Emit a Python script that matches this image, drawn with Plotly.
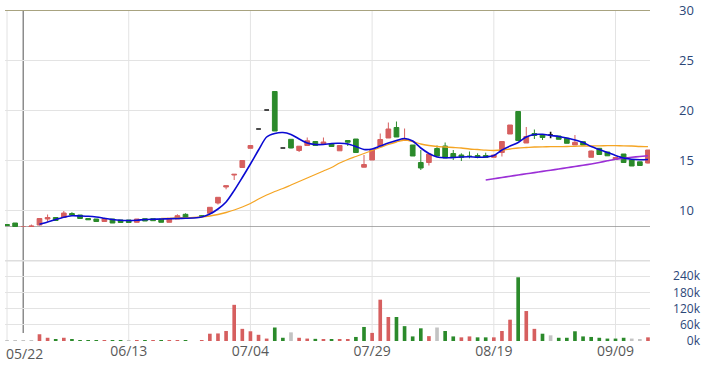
import plotly.graph_objects as go

dates = ["05/22","05/23","05/24","05/27","05/28","05/29","05/30","05/31",
         "06/03","06/04","06/05","06/06","06/07","06/11","06/12","06/13","06/14",
         "06/17","06/18","06/19","06/20","06/21","06/24","06/25","06/26","06/27","06/28",
         "07/01","07/02","07/03","07/04","07/05","07/08","07/09","07/10","07/11","07/12",
         "07/15","07/16","07/17","07/18","07/19","07/22","07/23","07/26","07/29","07/30","07/31",
         "08/01","08/02","08/05","08/06","08/07","08/08","08/09","08/12","08/13","08/14","08/15","08/16",
         "08/19","08/20","08/21","08/22","08/23","08/26","08/27","08/28","08/29","08/30",
         "09/02","09/03","09/04","09/05","09/06","09/09","09/10","09/11","09/12","09/13"]

opens = [8.55, 8.7, 8.2, 8.28, 8.5, 9.1, 9.25, 9.25, 9.65, 9.5,
         9.15, 9.1, 8.85, 9.1, 9.0, 9.0, 8.77, 9.13, 9.13, 9.1,
         8.77, 9.1, 9.57, None, 9.42, 9.67, 10.7, 12.3, 13.5, 14.25,
         16.17, 18.1, 20.0, 21.85, 16.2, 17.07, 15.95, 16.45, 16.85, 16.65,
         16.6, 15.92, 16.95, 17.1, 14.28, 15.0, 16.4, 17.2, 18.25, 16.95,
         16.5, 14.75, 14.75, 16.15, 16.4, 15.65, 15.5, 15.4, 15.45, 15.45,
         15.27, 15.75, 17.6, 19.85, 16.7, 17.65, 17.55, 17.5, 17.4, 17.17,
         16.5, 16.83, 15.27, 16.17, 15.8, 15.08, 15.6, 15.0, 14.82, 14.7]
highs = [8.55, 8.7, 8.3, 8.55, 9.15, 9.55, 9.3, 9.9, 9.78, 9.5,
         9.15, 9.1, 9.15, 9.1, 9.0, 9.0, 9.1, 9.13, 9.13, 9.1,
         9.17, 9.57, 9.67, None, 9.5, 10.3, 11.3, 12.43, 13.57, 14.95,
         16.45, 18.1, 20.0, 21.85, 16.2, 17.07, 16.4, 17.25, 16.85, 17.25,
         16.6, 16.45, 17.0, 17.1, 15.5, 16.0, 17.65, 18.75, 18.85, 18.15,
         16.5, 16.0, 15.6, 16.45, 16.75, 16.0, 15.67, 15.85, 15.67, 15.73,
         15.5, 16.85, 18.5, 19.85, 18.3, 18.05, 17.55, 17.83, 17.4, 17.17,
         17.5, 16.83, 15.95, 16.17, 15.8, 15.27, 15.6, 15.0, 14.82, 16.0]
lows = [8.45, 8.35, 8.2, 8.28, 8.45, 8.85, 8.95, 9.2, 9.5, 9.15,
        9.02, 8.85, 8.85, 8.7, 8.75, 8.75, 8.77, 8.9, 8.93, 8.77,
        8.77, 9.1, 9.17, None, 9.3, 9.67, 10.55, 12.07, 13.0, 14.25,
        16.17, 18.1, 20.0, 17.9, 16.2, 16.17, 15.8, 16.45, 16.45, 16.65,
        16.33, 15.92, 16.4, 15.75, 14.25, 15.0, 16.4, 17.2, 17.3, 16.9,
        15.4, 14.0, 14.45, 15.4, 15.2, 15.0, 14.9, 15.17, 15.17, 15.27,
        15.27, 15.35, 17.6, 16.95, 16.7, 17.1, 17.0, 17.17, 17.07, 16.67,
        16.5, 16.5, 15.27, 15.52, 15.42, 15.08, 14.75, 14.4, 14.42, 14.65]
closes = [8.45, 8.35, 8.3, 8.4, 9.15, 9.25, 8.95, 9.7, 9.5, 9.15,
          9.02, 8.85, 9.15, 8.7, 8.75, 8.75, 9.1, 8.9, 8.93, 8.77,
          9.17, 9.43, 9.17, None, 9.38, 10.27, 11.27, 12.43, 13.57, 14.95,
          16.45, 18.1, 20.0, 17.9, 16.2, 16.2, 16.38, 16.92, 16.45, 16.8,
          16.35, 16.45, 16.78, 15.75, 14.55, 16.0, 17.05, 18.1, 17.3, 17.1,
          15.4, 14.2, 15.6, 15.4, 15.2, 15.3, 15.27, 15.35, 15.27, 15.27,
          15.5, 16.85, 18.5, 16.95, 17.35, 17.45, 17.25, 17.5, 17.07, 16.67,
          16.77, 16.5, 15.9, 15.55, 15.42, 15.25, 14.75, 14.4, 14.45, 16.0]

volumes_k = [0.5, 0.5, 0.5, 0.5, 25, 12, 5, 12, 4, 2,
             2, 2, 0.3, 0.3, 0.3, 0.3, 0.3, 0.3, 0.3, 0.3,
             0.3, 1.5, 1.5, 0, 1.5, 27, 28, 37, 134, 45,
             36, 23, 9, 50, 12, 32, 12, 9, 8, 4,
             4, 4, 7, 15, 52, 30, 153, 89, 89, 55,
             17, 47, 18, 50, 37, 17, 13.5, 17, 13.5, 13.5,
             13.5, 37, 79, 236, 111, 45, 27, 21, 12, 12,
             36, 17, 15, 12, 9, 9, 12, 9, 7, 13.5]
vol_dirs = ["n","n","n","n","r","r","g","r","g","g",
            "g","g","r","g","g","n","r","g","r","g",
            "r","r","g","n","r","r","r","r","r","r",
            "r","r","r","g","g","n","r","r","g","r",
            "g","r","r","g","g","r","r","r","g","g",
            "g","g","r","n","g","g","r","r","g","g",
            "r","r","r","g","r","r","g","n","g","g",
            "g","g","g","g","g","g","g","n","n","r"]

ma5 = [None]*4 + [8.57, 8.8, 9.05, 9.28, 9.42, 9.4, 9.37, 9.3, 9.18, 9.05,
                  8.97, 8.95, 8.98, 9.05, 9.08, 9.1, 9.12, 9.15, 9.17, 9.2,
                  9.3, 9.6, 10.1, 10.8, 11.95, 13.25, 14.6, 16.0, 17.3, 17.65,
                  17.75, 17.55, 17.1, 16.7, 16.55, 16.55, 16.65, 16.67, 16.6, 16.35,
                  16.05, 16.1, 16.4, 16.7, 16.95, 17.15, 16.9, 16.2, 15.65, 15.3,
                  15.22, 15.25, 15.3, 15.32, 15.28, 15.3, 15.45, 16.0, 16.4, 16.75,
                  17.3, 17.55, 17.57, 17.45, 17.35, 17.2, 17.0, 16.75, 16.35, 16.05,
                  15.75, 15.45, 15.2, 15.08, 15.03, 15.05]
ma20 = [None]*19 + [9.15, 9.17, 9.2, 9.22, 9.25, 9.3, 9.4, 9.55, 9.75, 10.0,
                    10.3, 10.65, 11.1, 11.5, 11.85, 12.15, 12.5, 12.85, 13.2, 13.55,
                    13.9, 14.25, 14.7, 15.05, 15.35, 15.65, 15.95, 16.25, 16.55, 16.8,
                    17.0, 16.85, 16.6, 16.45, 16.35, 16.3, 16.25, 16.2, 16.1, 16.05,
                    15.98, 15.95, 16.0, 16.1, 16.2, 16.25, 16.3, 16.32, 16.33, 16.33,
                    16.35, 16.37, 16.4, 16.4, 16.42, 16.43, 16.43, 16.42, 16.4, 16.35,
                    16.33]
ma60 = [None]*59 + [13.0, 13.12, 13.25, 13.37, 13.5, 13.62, 13.74, 13.86, 13.98, 14.1,
                    14.22, 14.35, 14.47, 14.6, 14.75, 14.92, 15.08, 15.18, 15.27, 15.35,
                    15.42]

price_ticks = [10, 15, 20, 25, 30]
vol_ticks = [0, 60, 120, 180, 240]
date_ticks = ["05/22", "06/13", "07/04", "07/29", "08/19", "09/09"]
cursor_date = "05/24"

W, H = 708, 367
RED, GREEN, BLACK, GRAY = "#d65f5f", "#2b8a2b", "#111111", "#c3c3c3"

idx = list(range(len(dates)))
fig = go.Figure()

# volume bars
vcol = {"r": RED, "g": GREEN, "n": GRAY}
fig.add_trace(go.Bar(x=idx, y=volumes_k, marker=dict(color=[vcol[d] for d in vol_dirs], line=dict(width=0)),
                     width=0.45, xaxis="x", yaxis="y2", hoverinfo="skip"))

# candles split by direction
groups = {"up": [], "down": [], "flat": []}
for i in idx:
    o, c = opens[i], closes[i]
    if o is None:
        continue
    groups["up" if c > o else ("down" if c < o else "flat")].append(i)
ccol = {"up": RED, "down": GREEN, "flat": BLACK}
for key, ids in groups.items():
    col = ccol[key]
    lw = 1.6 if key == "flat" else 1
    fig.add_trace(go.Candlestick(
        x=ids, open=[opens[i] for i in ids], high=[highs[i] for i in ids],
        low=[lows[i] for i in ids], close=[closes[i] for i in ids],
        increasing=dict(line=dict(color=col, width=lw), fillcolor=col),
        decreasing=dict(line=dict(color=col, width=lw), fillcolor=col),
        whiskerwidth=0, xaxis="x", yaxis="y", hoverinfo="skip"))

# moving averages
for vals, col, w in [(ma20, "#f5a524", 1.3), (ma60, "#9b2fd6", 1.6), (ma5, "#0a0ad2", 1.6)]:
    fig.add_trace(go.Scatter(x=idx, y=vals, mode="lines", xaxis="x", yaxis="y",
                             line=dict(color=col, width=w, shape="spline", smoothing=0.8),
                             hoverinfo="skip"))

x0p, x1p = 5 / W, 650 / W
price_dom = [1 - 227 / H, 1 - 10 / H]
vol_dom = [1 - 341 / H, 1 - 260 / H]

shapes = []
for d in date_ticks:
    i = dates.index(d)
    shapes.append(dict(type="line", xref="x", x0=i, x1=i, yref="paper", y0=vol_dom[0], y1=price_dom[1],
                       line=dict(color="#e3e3e3", width=1), layer="below"))
ci = dates.index(cursor_date)
shapes.append(dict(type="line", xref="x", x0=ci, x1=ci, yref="paper", y0=1 - 333 / H, y1=price_dom[1],
                   line=dict(color="#8c8c8c", width=1.5), layer="between"))
shapes.append(dict(type="line", xref="paper", x0=x0p, x1=x1p, yref="y", y0=30, y1=30,
                   line=dict(color="#a8a380", width=2), layer="between"))
shapes.append(dict(type="line", xref="paper", x0=x0p, x1=x1p, yref="y", y0=8.3, y1=8.3,
                   line=dict(color="#909090", width=1.5), layer="between"))
shapes.append(dict(type="line", xref="paper", x0=x0p, x1=x1p, yref="y2", y0=300, y1=300,
                   line=dict(color="#dedede", width=3), layer="between"))

date_font = dict(family="Open Sans", size=14, color="#595959")
axis_font = dict(family="Open Sans", size=13, color="#2c4778")
vol_font = dict(family="Open Sans", size=12, color="#2c4778")

fig.update_layout(
    width=W, height=H, margin=dict(l=0, r=0, t=0, b=0),
    paper_bgcolor="white", plot_bgcolor="white", showlegend=False,
    boxgap=0.42, boxgroupgap=0, boxmode="overlay",
    xaxis=dict(domain=[x0p, x1p], range=[-0.25, len(dates) - 1 + 0.25], anchor="y2",
               showgrid=False, zeroline=False, showline=False, ticks="",
               tickmode="array", tickvals=[dates.index(d) for d in date_ticks[1:]],
               ticktext=date_ticks[1:], tickfont=date_font,
               rangeslider=dict(visible=False), automargin=False),
    yaxis=dict(domain=price_dom, range=[8.3, 30], side="right", anchor="free", position=678 / W,
               tickmode="array", tickvals=price_ticks, showgrid=True, gridcolor="#e3e3e3", gridwidth=1,
               zeroline=False, showline=False, ticks="", tickfont=axis_font, automargin=False),
    yaxis2=dict(domain=vol_dom, range=[0, 300], side="left", anchor="free", position=700 / W,
                tickmode="array", tickvals=vol_ticks, ticktext=[f"{v}k" for v in vol_ticks],
                showgrid=True, gridcolor="#e3e3e3", gridwidth=1,
                zeroline=False, showline=False, ticks="", tickfont=vol_font, automargin=False),
    shapes=shapes,
    annotations=[dict(text=date_ticks[0], x=dates.index(date_ticks[0]), xref="x", y=1 - 353 / H, yref="paper",
                      xanchor="left", yanchor="middle", xshift=-3, showarrow=False, font=date_font)],
)

fig.write_html("out.html")
